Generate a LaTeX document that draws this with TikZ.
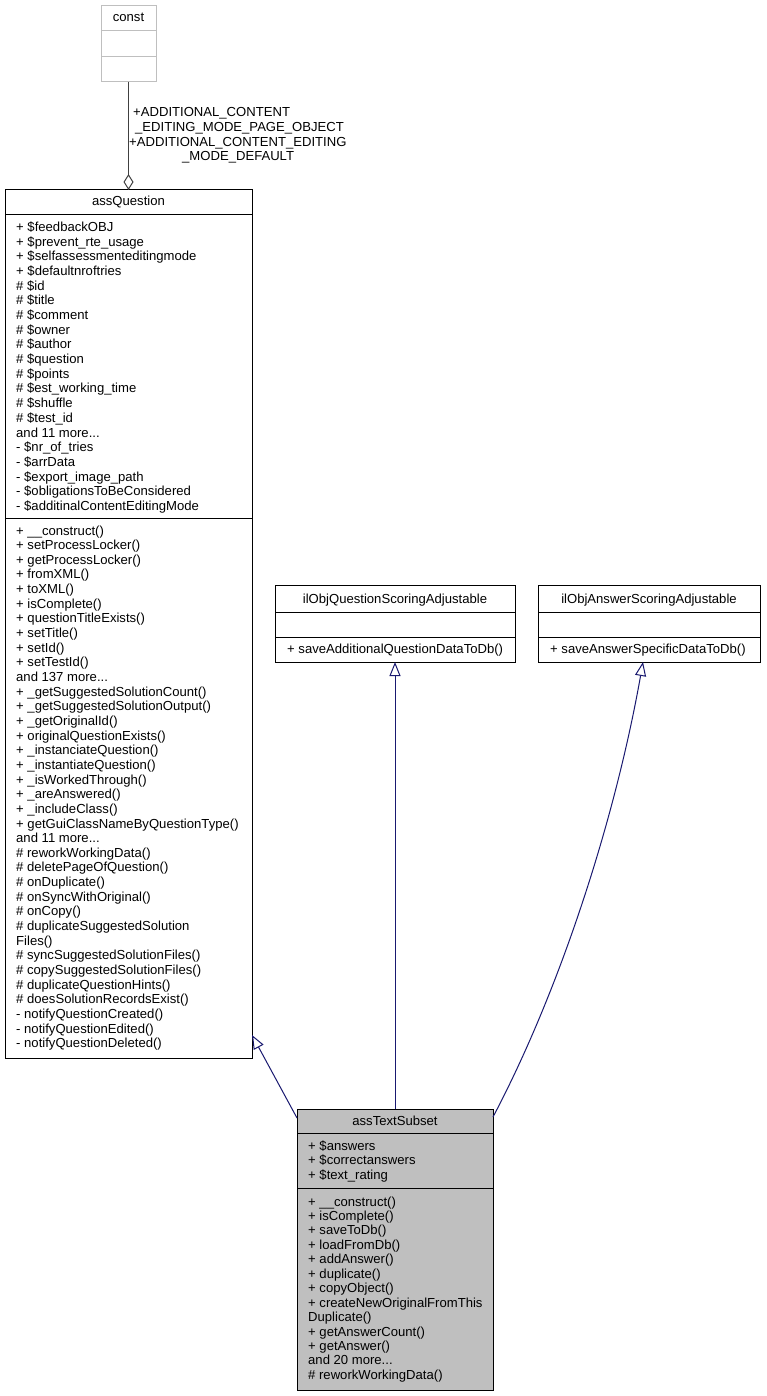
\documentclass[tikz,border=0pt]{standalone}
\usepackage{fontspec}
\setmainfont{Liberation Sans}
\usetikzlibrary{arrows.meta}
\definecolor{edgeblue}{HTML}{191970}
\definecolor{boxgray}{HTML}{BFBFBF}
\definecolor{aggray}{HTML}{404040}
\newcommand\mydots{...}
\tikzset{
  umlbox/.style={draw=black, line width=1pt, fill=white, inner sep=0pt, outer sep=0pt},
  txt/.style={anchor=base west, inner sep=0pt, font=\fontsize{13.1}{15}\selectfont},
  ttl/.style={anchor=base, inner sep=0pt, font=\fontsize{13.1}{15}\selectfont},
  inherit/.style={draw=edgeblue, line width=1pt, -{Triangle[open, length=14pt, width=11pt, line width=1pt]}},
  aggr/.style={draw=aggray, line width=1pt, -{Diamond[open, length=16pt, width=10pt, line width=1pt]}},
}
\begin{document}
\begin{tikzpicture}[x=1pt, y=-1pt]
\useasboundingbox (0,0) rectangle (766,1396);
\fill[white] (0,0) rectangle (766,1396);

% const
\node[umlbox, draw=boxgray, minimum width=55pt, minimum height=76pt] (const) at (128.5,44) {};
\draw[boxgray, line width=1pt] (101,31) -- (156,31) (101,57) -- (156,57);
\node[ttl] (constt) at (128.5,22) {const};

% assQuestion
\node[umlbox, minimum width=247pt, minimum height=868pt] (aq) at (128.5,624) {};
\draw[line width=1pt] (aq.west |- 0,215) -- (aq.east |- 0,215) (aq.west |- 0,518) -- (aq.east |- 0,518);
\node[ttl] (aqt) at (128.5,206) {assQuestion};
\foreach [count=\i] \t in {
{+ \$feedbackOBJ},
{+ \$prevent\_rte\_usage},
{+ \$selfassessmenteditingmode},
{+ \$defaultnroftries},
{\# \$id},
{\# \$title},
{\# \$comment},
{\# \$owner},
{\# \$author},
{\# \$question},
{\# \$points},
{\# \$est\_working\_time},
{\# \$shuffle},
{\# \$test\_id},
{and 11 more\mydots},
{- \$nr\_of\_tries},
{- \$arrData},
{- \$export\_image\_path},
{- \$obligationsToBeConsidered},
{- \$additinalContentEditingMode}}
  \node[txt] (aqa\i) at (16, {231.5+(\i-1)*14.68}) {\t};
\foreach [count=\i] \t in {
{+ \_\_construct()},
{+ setProcessLocker()},
{+ getProcessLocker()},
{+ fromXML()},
{+ toXML()},
{+ isComplete()},
{+ questionTitleExists()},
{+ setTitle()},
{+ setId()},
{+ setTestId()},
{and 137 more\mydots},
{+ \_getSuggestedSolutionCount()},
{+ \_getSuggestedSolutionOutput()},
{+ \_getOriginalId()},
{+ originalQuestionExists()},
{+ \_instanciateQuestion()},
{+ \_instantiateQuestion()},
{+ \_isWorkedThrough()},
{+ \_areAnswered()},
{+ \_includeClass()},
{+ getGuiClassNameByQuestionType()},
{and 11 more\mydots},
{\# reworkWorkingData()},
{\# deletePageOfQuestion()},
{\# onDuplicate()},
{\# onSyncWithOriginal()},
{\# onCopy()},
{\# duplicateSuggestedSolution},
{Files()},
{\# syncSuggestedSolutionFiles()},
{\# copySuggestedSolutionFiles()},
{\# duplicateQuestionHints()},
{\# doesSolutionRecordsExist()},
{- notifyQuestionCreated()},
{- notifyQuestionEdited()},
{- notifyQuestionDeleted()}}
  \node[txt] (aqm\i) at (16, {535+(\i-1)*14.65}) {\t};

% ilObjQuestionScoringAdjustable
\node[umlbox, minimum width=240pt, minimum height=77pt] (qs) at (395,623.5) {};
\draw[line width=1pt] (qs.west |- 0,612) -- (qs.east |- 0,612) (qs.west |- 0,637) -- (qs.east |- 0,637);
\node[ttl] (qst) at (395,603) {ilObjQuestionScoringAdjustable};
\node[txt] (qsm1) at (287,653) {+ saveAdditionalQuestionDataToDb()};

% ilObjAnswerScoringAdjustable
\node[umlbox, minimum width=222pt, minimum height=77pt] (as) at (649,623.5) {};
\draw[line width=1pt] (as.west |- 0,612) -- (as.east |- 0,612) (as.west |- 0,637) -- (as.east |- 0,637);
\node[ttl] (ast) at (649,603) {ilObjAnswerScoringAdjustable};
\node[txt] (asm1) at (550,653) {+ saveAnswerSpecificDataToDb()};

% assTextSubset
\node[umlbox, fill=boxgray, minimum width=196pt, minimum height=281pt] (ts) at (395,1249.5) {};
\draw[line width=1pt] (ts.west |- 0,1133) -- (ts.east |- 0,1133) (ts.west |- 0,1188) -- (ts.east |- 0,1188);
\node[ttl] (tst) at (395,1125) {assTextSubset};
\foreach [count=\i] \t in {
{+ \$answers},
{+ \$correctanswers},
{+ \$text\_rating}}
  \node[txt] (tsa\i) at (308, {1150+(\i-1)*14.5}) {\t};
\foreach [count=\i] \t in {
{+ \_\_construct()},
{+ isComplete()},
{+ saveToDb()},
{+ loadFromDb()},
{+ addAnswer()},
{+ duplicate()},
{+ copyObject()},
{+ createNewOriginalFromThis},
{Duplicate()},
{+ getAnswerCount()},
{+ getAnswer()},
{and 20 more\mydots},
{\# reworkWorkingData()}}
  \node[txt] (tsm\i) at (308, {1206+(\i-1)*14.45}) {\t};

% connectors
\draw[aggr] (const.south) -- (aq.north -| const.south);
\node[txt] (lab1) at (133,117) {+ADDITIONAL\_CONTENT};
\node[txt] (lab2) at (135,131.7) {\_EDITING\_MODE\_PAGE\_OBJECT};
\node[txt] (lab3) at (129,146.4) {+ADDITIONAL\_CONTENT\_EDITING};
\node[txt] (lab4) at (182,161) {\_MODE\_DEFAULT};

\draw[inherit] ([yshift=-9pt]ts.north west) -- ([yshift=23pt]aq.south east);
\draw[inherit] (ts.north) -- (qs.south);
\draw[inherit] ([yshift=-8pt]ts.north east) .. controls (560,990) and (615,820) .. ([xshift=-6pt]as.south);
\end{tikzpicture}
\end{document}
